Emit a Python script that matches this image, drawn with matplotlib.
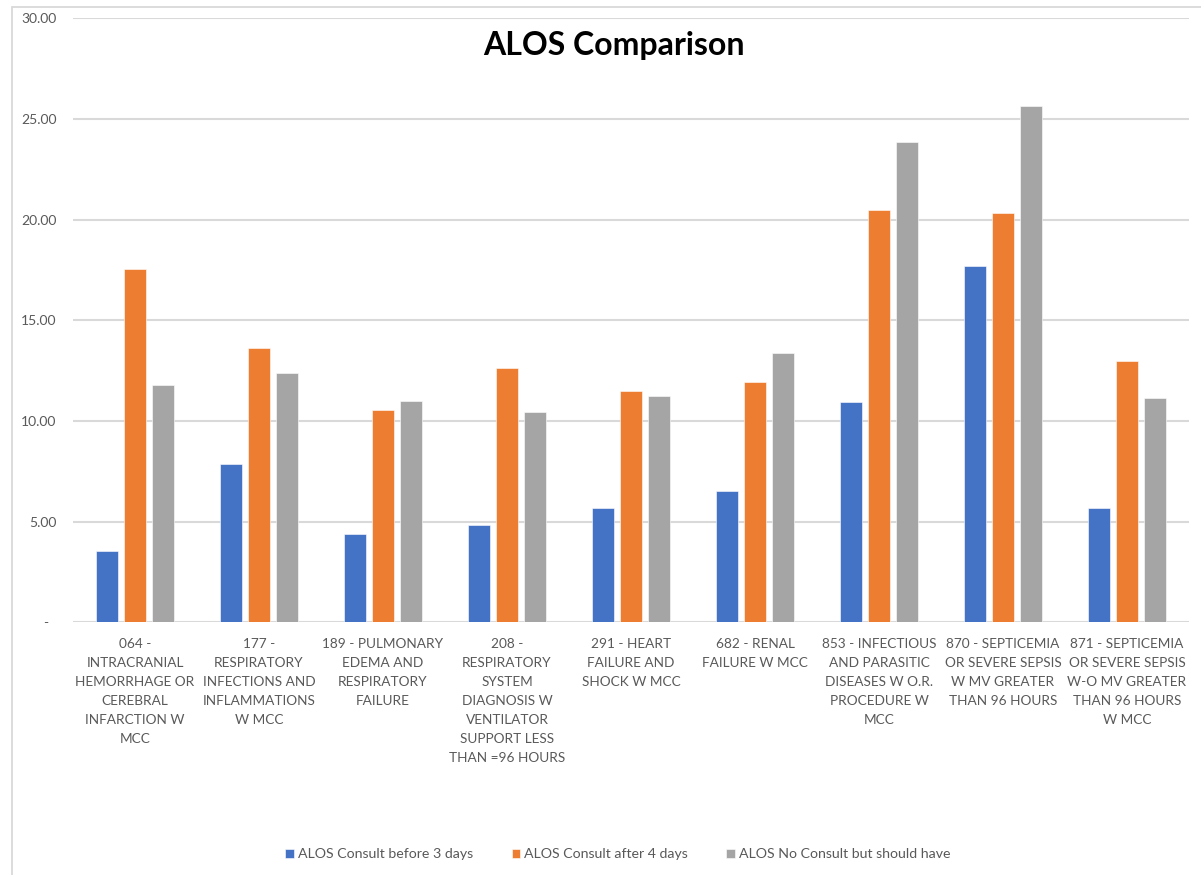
import numpy as np
import matplotlib.pyplot as plt
from matplotlib.patches import Rectangle

drg_labels = [
    "064 -\nINTRACRANIAL\nHEMORRHAGE OR\nCEREBRAL\nINFARCTION W\nMCC",
    "177 -\nRESPIRATORY\nINFECTIONS AND\nINFLAMMATIONS\nW MCC",
    "189 - PULMONARY\nEDEMA AND\nRESPIRATORY\nFAILURE",
    "208 -\nRESPIRATORY\nSYSTEM\nDIAGNOSIS W\nVENTILATOR\nSUPPORT LESS\nTHAN =96 HOURS",
    "291 - HEART\nFAILURE AND\nSHOCK W MCC",
    "682 - RENAL\nFAILURE W MCC",
    "853 - INFECTIOUS\nAND PARASITIC\nDISEASES W O.R.\nPROCEDURE W\nMCC",
    "870 - SEPTICEMIA\nOR SEVERE SEPSIS\nW MV GREATER\nTHAN 96 HOURS",
    "871 - SEPTICEMIA\nOR SEVERE SEPSIS\nW-O MV GREATER\nTHAN 96 HOURS\nW MCC",
]
consult_before_3 = [3.56, 7.84, 4.37, 4.82, 5.66, 6.50, 10.92, 17.69, 5.70]
consult_after_4 = [17.53, 13.60, 10.54, 12.64, 11.47, 11.93, 20.47, 20.34, 12.97]
no_consult = [11.80, 12.38, 11.00, 10.43, 11.22, 13.36, 23.83, 25.65, 11.12]

series = [
    ("ALOS Consult before 3 days", consult_before_3, "#4472C4"),
    ("ALOS Consult after 4 days", consult_after_4, "#ED7D31"),
    ("ALOS No Consult but should have", no_consult, "#A5A5A5"),
]

plt.rcParams["font.family"] = ["Lato", "DejaVu Sans"]
label_color = "#595959"
grid_color = "#D9D9D9"

fig = plt.figure(figsize=(12.01, 8.75), dpi=100)
# chart frame (only left and top edges fall inside the image)
fig.patches.append(Rectangle((12 / 1201, -0.1), 1.2, 1.1 - 7 / 875,
                             transform=fig.transFigure, fill=False,
                             edgecolor="#D9D9D9", linewidth=1.3))

ax = fig.add_axes([73 / 1201, 0.2888, 1116 / 1201, 0.6905])
x = np.arange(len(drg_labels))
width = 0.175
step = 0.225
for i, (name, vals, color) in enumerate(series):
    ax.bar(x + (i - 1) * step, vals, width=width, color=color, label=name,
           edgecolor="white", linewidth=0.4, zorder=3)

ax.set_xlim(-0.5, len(drg_labels) - 0.5)
ax.set_ylim(0, 30)
ax.set_yticks(np.arange(0, 31, 5))
ax.set_yticklabels(["-  "] + [f"{v:.2f}" for v in np.arange(5, 31, 5)])
ax.grid(axis="y", color=grid_color, linewidth=1.5, zorder=0)
for s in ax.spines.values():
    s.set_visible(False)
ax.tick_params(axis="y", length=0, pad=12, labelsize=10, labelcolor=label_color)
ax.tick_params(axis="x", length=0, pad=11, labelsize=9.8, labelcolor=label_color)
ax.set_xticks(x)
ax.set_xticklabels(drg_labels, linespacing=1.7)

fig.text(614 / 1201, 1 - 45 / 875, "ALOS Comparison", ha="center", va="center",
         fontsize=23, fontweight="bold", color="black")

fig.legend(loc="center", bbox_to_anchor=(618 / 1201, 1 - 854 / 875), ncol=3,
           frameon=False, fontsize=10.2, labelcolor=label_color,
           handlelength=0.6, handleheight=0.6, handletextpad=0.3,
           columnspacing=2.7)

fig.savefig("out.png", dpi=100)
